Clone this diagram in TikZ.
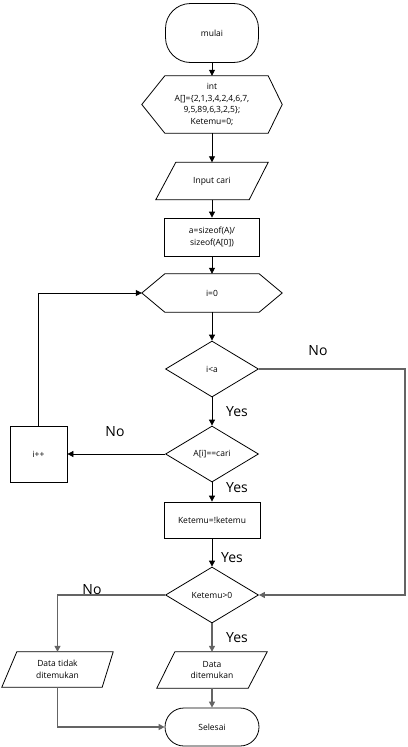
\documentclass[tikz,border=0pt]{standalone}
\usepackage{fontspec}
\setmainfont{Open Sans}
\usetikzlibrary{arrows.meta,shapes.geometric,calc}
\begin{document}
\begin{tikzpicture}[x=1pt,y=-1pt,
  every node/.style={font=\fontsize{8.5}{11.5}\selectfont, align=center, inner sep=0pt},
  box/.style={draw, line width=0.8pt, minimum width=#1},
  term/.style={draw, line width=0.8pt, rounded corners=19pt},
  ghost/.style={draw=none},
  dia/.style={diamond, draw, line width=0.8pt, minimum width=93pt, minimum height=56pt, inner sep=0pt},
  outl/.style={line width=0.8pt},
  arr/.style={line width=0.8pt, -{Triangle[length=6pt,width=6pt]}},
  garr/.style={line width=1.3pt, draw={rgb,255:red,100;green,100;blue,100}, -{Triangle[length=6pt,width=6pt]}},
  lab/.style={font=\fontsize{14}{16}\selectfont}
]
\useasboundingbox (0,0) rectangle (407,747);

% nodes
\node[term, minimum width=93pt, minimum height=59pt, rounded corners=25pt] (mulai) at (212,33) {mulai};
\node[ghost, minimum width=140pt, minimum height=57pt] (init) at (212,104.5)
  {int\\A[]=\{2,1,3,4,2,4,6,7,\\9,5,89,6,3,2,5\};\\Ketemu=0;};
\node[ghost, minimum width=112pt, minimum height=37pt] (input) at (212,181) {Input cari};
\node[box=95pt, minimum height=38pt] (size) at (212,237) {a=sizeof(A)/\\sizeof(A[0])};
\node[ghost, minimum width=140pt, minimum height=38pt] (izero) at (212,293) {i=0};
\node[dia] (ia) at (212,369) {i<a};
\node[dia] (cari) at (212,454) {A[i]==cari};
\node[box=57pt, minimum height=56pt] (ipp) at (38.5,454) {i++};
\node[box=96pt, minimum height=36pt] (ket) at (212,520) {Ketemu=!ketemu};
\node[dia] (kz) at (212,595) {Ketemu>0};
\node[ghost, minimum width=111pt, minimum height=35pt] (dt) at (57.5,669.5) {Data tidak\\ditemukan};
\node[ghost, minimum width=110pt, minimum height=36pt] (df) at (212,670) {Data\\ditemukan};
\node[term, minimum width=94pt, minimum height=38pt] (sel) at (212,727) {Selesai};

% outlines of hexagons and parallelograms
\draw[outl] (init.west) -- ([xshift=23pt]init.north west) -- ([xshift=-14pt]init.north east) -- (init.east)
  -- ([xshift=-14pt]init.south east) -- ([xshift=23pt]init.south west) -- cycle;
\draw[outl] (izero.west) -- ([xshift=23pt]izero.north west) -- ([xshift=-23pt]izero.north east) -- (izero.east)
  -- ([xshift=-23pt]izero.south east) -- ([xshift=23pt]izero.south west) -- cycle;
\draw[outl] ([xshift=20pt]input.north west) -- (input.north east) -- ([xshift=-19pt]input.south east) -- (input.south west) -- cycle;
\draw[outl] ([xshift=15pt]dt.north west) -- (dt.north east) -- ([xshift=-11pt]dt.south east) -- (dt.south west) -- cycle;
\draw[outl] ([xshift=18pt]df.north west) -- (df.north east) -- ([xshift=-19pt]df.south east) -- (df.south west) -- cycle;

% connectors
\draw[arr] (mulai.south) -- (init.north);
\draw[arr] (init.south) -- (input.north);
\draw[arr] (input.south) -- (size.north);
\draw[arr] (size.south) -- (izero.north);
\draw[arr] (izero.south) -- (ia.north);
\draw[arr] (ia.south) -- (cari.north);
\draw[arr] (cari.west) -- (ipp.east);
\draw[arr] (ipp.north) |- (izero.west);
\coordinate (rr) at (405,369);
\draw[garr] (ia.east) -- (rr) |- (kz.east);
\draw[arr] (cari.south) -- (ket.north);
\draw[arr] (ket.south) -- (kz.north);
\draw[garr] (kz.west) -| (dt.north);
\draw[garr] (kz.south) -- (df.north);
\draw[garr] (df.south) -- (sel.north);
\draw[garr] (dt.south) |- (sel.west);

% labels
\node[lab] (l1) at (318,351) {No};
\node[lab] (l2) at (237,412) {Yes};
\node[lab] (l3) at (115,432) {No};
\node[lab] (l4) at (237,488) {Yes};
\node[lab] (l5) at (232,558) {Yes};
\node[lab] (l6) at (92,590) {No};
\node[lab] (l7) at (237,638) {Yes};
\end{tikzpicture}
\end{document}
